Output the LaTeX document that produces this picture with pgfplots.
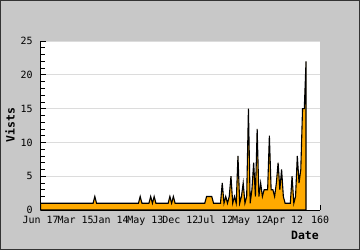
\documentclass[border=0pt]{standalone}
\usepackage{pgfplots}
\pgfplotsset{compat=1.18}
\usepackage{fontspec}
\setmainfont{DejaVu Sans Mono}
\definecolor{bggrey}{RGB}{200,200,200}
\definecolor{areaor}{RGB}{255,170,0}
\definecolor{gridgrey}{RGB}{220,220,220}
\begin{document}
\begin{tikzpicture}[x=1bp,y=1bp]
\path[use as bounding box] (0,0) rectangle (360,250);
\fill[bggrey] (0,0) rectangle (360,250);
\draw[black!80, line width=1bp] (0.5,0.5) rectangle (359.5,249.5);
\begin{axis}[
  at={(40.7bp,40bp)}, anchor=south west,
  scale only axis, width=279.3bp, height=169bp,
  xmin=0, xmax=160, ymin=0, ymax=25,
  axis background/.style={fill=white},
  axis lines=left, axis line style={-, black, line width=0.8bp},
  xtick={0,20,...,160},
  xticklabels={Jun 17,Mar 15,Jan 14,May 13,Dec 12,Jul 12,May 12,Apr 12,160},
  ytick={0,5,...,25},
  minor y tick num=4,
  tick align=inside,
  major tick length=5bp, minor tick length=4bp,
  tick style={black, line width=0.6bp},
  ymajorgrids, grid style={gridgrey, line width=0.8bp},
  /pgf/number format/assume math mode=true,
  tick label style={font=\fontsize{10}{12}\selectfont},
  yticklabel style={anchor=east, inner sep=0pt, xshift=-8bp},
  xticklabel style={anchor=north, inner sep=0pt, yshift=-6bp},
  clip=false,
]
\addplot[draw=black, line width=1.1bp, fill=areaor] coordinates {
(0,1)(30,1)(31,2)(32,1)(56,1)(57,2)(58,1)(62,1)(63,2)(64,1)(65,2)(66,1)(73,1)(74,2)(75,1)(76,2)(77,1)(94,1)(95,2)(98,2)(99,1)(103,1)(104,4)(105,1)(106,2)(107,1)(108,2)(109,5)(110,1)(111,2)(112,1)(113,8)(114,1)(115,2)(116,4)(117,1)(118,2)(119,15)(120,1)(121,3)(122,7)(123,2)(124,12)(125,2)(126,4)(127,2)(128,3)(129,3)(130,3)(131,11)(132,3)(133,3)(134,2)(135,4)(136,7)(137,3)(138,6)(139,2)(140,1)(143,1)(144,5)(145,1)(146,2)(147,8)(148,4)(149,6)(150,15)(151,15)(152,22)
} \closedcycle;
\end{axis}
\node[font=\fontsize{11.5}{13}\selectfont\bfseries, rotate=90] at (10,125) {Vists};
\node[font=\fontsize{11.5}{13}\selectfont\bfseries] at (305,15) {Date};
\end{tikzpicture}
\end{document}
